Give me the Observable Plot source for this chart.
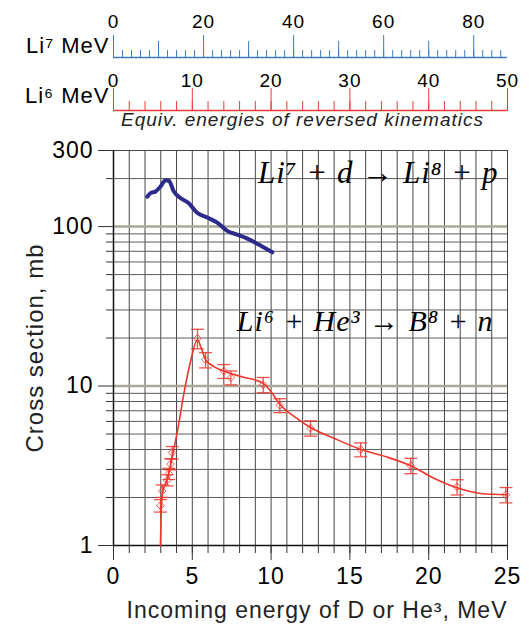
<!DOCTYPE html>
<html><head><meta charset="utf-8">
<script src="https://cdn.jsdelivr.net/npm/d3@7"></script>
<script src="https://cdn.jsdelivr.net/npm/@observablehq/plot@0.6"></script>
<style>
body{margin:0;background:#fff;width:529px;height:626px;overflow:hidden}
#chart svg{display:block}
#chart svg text{letter-spacing:1px}
#chart g[aria-label="ylabel"] text, #chart g[aria-label="eq"] text{letter-spacing:0}
</style></head><body><div id="chart"></div>
<script>
// ---- data ----
const li7Energy = [2.14,2.35,2.67,2.98,3.30,3.51,3.83,4.25,4.78,5.31,5.95,6.58,7.22,7.85,8.49,9.12,10.08];
const li7Sigma  = [154,162,166,178,195,194,166,151,140,122,114,106,94,89,84,78,69];

const li6Energy = [2.98,3.09,3.41,3.51,3.62,3.72,5.33,5.84,7.0,7.45,9.5,10.55,12.5,15.68,18.86,21.8,24.9];
const li6Sigma  = [1.78,2.2,2.57,2.82,3.24,3.83,19.9,14.6,12.4,11.3,10.2,7.57,5.45,4.0,3.17,2.33,2.08];
const li6RelErr = [0.09,0.09,0.08,0.08,0.08,0.09,0.14,0.11,0.10,0.10,0.11,0.10,0.11,0.10,0.11,0.11,0.11];

const fitEnergy = [2.98,3.02,3.1,3.4,3.6,3.8,4.04,4.46,4.89,5.33,5.55,5.85,6.4,7.2,8.2,9.5,10.0,10.6,11.5,12.5,14.0,15.7,17.3,18.9,20.3,21.8,23.3,25.0];
const fitSigma  = [1.0,1.5,2.1,2.6,3.1,3.9,5.1,8.9,14.3,19.5,17.5,14.6,13.2,12.2,11.4,10.4,9.2,7.6,6.4,5.5,4.7,4.0,3.6,3.15,2.65,2.3,2.12,2.08];

const xTicks = [0,5,10,15,20,25];
const xMinorTicks = d3.range(0, 26, 1);
const yTicks = [1,10,100,300];
const yMinorTicks = [2,3,4,5,6,7,8,9,20,30,40,50,60,70,80,90,200];
const li7Max = 87.5, li7Labels = [0,20,40,60,80], li7Mid = [10,30,50,70], li7Minor = d3.range(0, 88, 2);
const li6Max = 50, li6Labels = [0,10,20,30,40,50], li6Minor = d3.range(0, 51, 2);

const xTitle = "Incoming energy of D or He³, MeV";
const yTitle = "Cross section, mb";
const li7Title = "Li⁷ MeV";
const li6Title = "Li⁶ MeV";
const reverseTitle = "Equiv. energies of reversed kinematics";
const eq1 = "Li⁷ + d → Li⁸ + p";
const eq2 = "Li⁶ + He³ → B⁸ + n";

// ---- tables ----
const li7 = li7Energy.map((e, i) => ({e, s: li7Sigma[i]}));
const li6 = li6Energy.map((e, i) => ({e, s: li6Sigma[i], lo: li6Sigma[i] * (1 - li6RelErr[i]), hi: li6Sigma[i] * (1 + li6RelErr[i])}));
const fit = fitEnergy.map((e, i) => ({e, s: fitSigma[i]}));

const W = 529, ML = 113, MR = 22;
const sans = '"Liberation Sans", Arial, Helvetica, sans-serif';
const serif = '"Liberation Serif", "Times New Roman", "DejaVu Serif", serif';
const blank = () => "";
const capSymbol = {draw(ctx, size) { const w = Math.sqrt(size / Math.PI); ctx.moveTo(-w, 0); ctx.lineTo(w, 0); }};
const red = "#f2352b";

const li7Plot = Plot.plot({
  width: W, height: 60, marginLeft: ML, marginRight: MR, marginTop: 57, marginBottom: 3,
  x: {domain: [0, li7Max]},
  style: {fontFamily: sans, fontSize: "19px", background: "white"},
  marks: [
    Plot.ruleY([0], {stroke: "#3d7cc2", strokeWidth: 1.5}),
    Plot.axisX({anchor: "top", ticks: li7Minor, tickSize: 8, tickFormat: blank, stroke: "#3d7cc2", label: null}),
    Plot.axisX({anchor: "top", ticks: li7Mid, tickSize: 17, tickFormat: blank, stroke: "#3d7cc2", label: null}),
    Plot.axisX({anchor: "top", ticks: li7Labels, tickSize: 23, tickFormat: blank, stroke: "#3d7cc2", label: null}),
    Plot.axisX({anchor: "top", ticks: li7Labels, tickSize: 0, tickPadding: 30, fontSize: 19, label: null}),
    Plot.text([li7Title], {text: d => d, frameAnchor: "left", textAnchor: "end", dx: -4, dy: -12, fontSize: 22})
  ]
});

const li6Plot = Plot.plot({
  width: W, height: 75, marginLeft: ML, marginRight: MR, marginTop: 50, marginBottom: 25,
  x: {domain: [0, li6Max]},
  style: {fontFamily: sans, fontSize: "19px", background: "white"},
  marks: [
    Plot.ruleY([0], {stroke: "#ee3b3b", strokeWidth: 1.5}),
    Plot.axisX({anchor: "top", ticks: li6Minor, tickSize: 10, tickFormat: blank, stroke: "#ee3b3b", label: null}),
    Plot.axisX({anchor: "top", ticks: li6Labels, tickSize: 23, tickFormat: blank, stroke: "#ee3b3b", label: null}),
    Plot.axisX({anchor: "top", ticks: li6Labels, tickSize: 0, tickPadding: 24, fontSize: 19, label: null}),
    Plot.text([li6Title], {text: d => d, frameAnchor: "left", textAnchor: "end", dx: -4, dy: -15, fontSize: 22}),
    Plot.text([reverseTitle], {text: d => d, frameAnchor: "bottom", textAnchor: "middle", dx: -8, dy: 15, fontSize: 19, fontStyle: "italic", fill: "#222"})
  ]
});

const main = Plot.plot({
  width: W, height: 491, marginLeft: ML, marginRight: MR, marginTop: 15, marginBottom: 81,
  x: {domain: [0, 25]},
  y: {type: "log", domain: [1, 300]},
  style: {fontFamily: sans, fontSize: "23px", background: "white"},
  marks: [
    Plot.ruleX(xMinorTicks, {stroke: "#474747", strokeWidth: 1}),
    Plot.ruleY(yMinorTicks, {stroke: "#5c5c5c", strokeWidth: 1}),
    Plot.ruleY([10, 100], {stroke: "#aba797", strokeWidth: 2.5}),
    Plot.frame({stroke: "#444", strokeWidth: 1}),
    Plot.ruleX([0], {stroke: "#111", strokeWidth: 1.5}),
    Plot.ruleY([1], {stroke: "#111", strokeWidth: 1.5}),
    Plot.axisX({ticks: xMinorTicks, tickSize: 8, tickFormat: blank, label: null, stroke: "#333"}),
    Plot.axisX({ticks: xTicks, tickSize: 15, tickPadding: 7, fontSize: 23, label: null, stroke: "#333"}),
    Plot.axisY({ticks: yMinorTicks, tickSize: 7, tickFormat: blank, label: null, stroke: "#333"}),
    Plot.axisY({ticks: yTicks, tickSize: 15, tickPadding: 5, tickFormat: d3.format("d"), fontSize: 23, label: null, stroke: "#333"}),
    Plot.text([eq1], {text: d => d, frameAnchor: "top-right", textAnchor: "end", lineAnchor: "middle", dx: -9, dy: 23, fontSize: 31, fontFamily: serif, fontStyle: "italic", ariaLabel: "eq"}),
    Plot.text([eq2], {text: d => d, frameAnchor: "top-right", textAnchor: "end", lineAnchor: "middle", dx: -14, dy: 171, fontSize: 30, fontFamily: serif, fontStyle: "italic", ariaLabel: "eq"}),
    Plot.line(li7, {x: "e", y: "s", stroke: "#2c2a8a", strokeWidth: 4, curve: "monotone-x"}),
    Plot.line(fit, {x: "e", y: "s", stroke: red, strokeWidth: 1.6, curve: "monotone-x"}),
    Plot.ruleX(li6, {x: "e", y1: "lo", y2: "hi", stroke: red, strokeWidth: 1.3, strokeOpacity: 0.85}),
    Plot.dot(li6, {x: "e", y: "lo", symbol: capSymbol, r: 6.5, stroke: red, strokeWidth: 1.3, strokeOpacity: 0.85}),
    Plot.dot(li6, {x: "e", y: "hi", symbol: capSymbol, r: 6.5, stroke: red, strokeWidth: 1.3, strokeOpacity: 0.85}),
    Plot.dot(li6, {x: "e", y: "s", symbol: "diamond2", r: 3.5, stroke: red, strokeWidth: 1, fill: "none", strokeOpacity: 0.8}),
    Plot.text([yTitle], {text: d => d, frameAnchor: "left", rotate: -90, textAnchor: "middle", dx: -78, fontSize: 24, fill: "#222", ariaLabel: "ylabel"}),
    Plot.text([xTitle], {text: d => d, frameAnchor: "bottom-right", textAnchor: "end", lineAnchor: "middle", dy: 65, fontSize: 23, fill: "#222"})
  ]
});

const root = document.getElementById("chart");
root.append(li7Plot, li6Plot, main);

// white label boxes behind the reaction equations, sized from the rendered text
main.querySelectorAll('g[aria-label="eq"] text').forEach(t => {
  const b = t.getBBox();
  const r = document.createElementNS("http://www.w3.org/2000/svg", "rect");
  r.setAttribute("x", b.x - 7);
  r.setAttribute("y", b.y + 3);
  r.setAttribute("width", b.width + 14);
  r.setAttribute("height", b.height - 5);
  r.setAttribute("fill", "white");
  const tr = t.getAttribute("transform");
  if (tr) r.setAttribute("transform", tr);
  t.parentNode.insertBefore(r, t);
});
</script>
</body></html>
